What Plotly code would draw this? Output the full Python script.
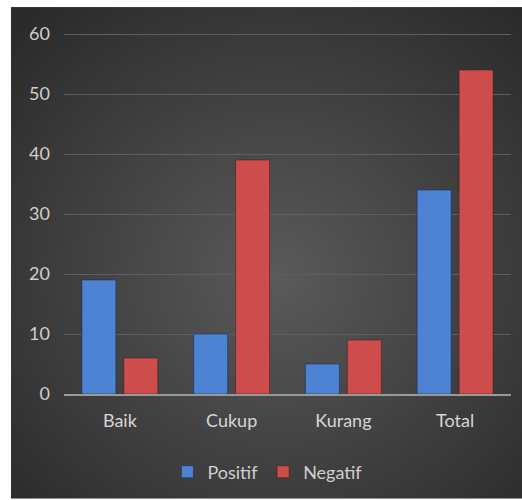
import base64
import plotly.graph_objects as go

categories = ["Baik", "Cukup", "Kurang", "Total"]
positif = [19, 10, 5, 34]
negatif = [6, 39, 9, 54]
y_ticks = [0, 10, 20, 30, 40, 50, 60]

svg = """<svg xmlns='http://www.w3.org/2000/svg' width='511' height='493' viewBox='0 0 511 493' preserveAspectRatio='none'>
<defs><radialGradient id='g' cx='0.52' cy='0.55' r='0.72'>
<stop offset='0' stop-color='#5a5a5a'/><stop offset='1' stop-color='#2a2a2a'/></radialGradient></defs>
<rect width='511' height='493' fill='url(#g)'/></svg>"""
bg = "data:image/svg+xml;base64," + base64.b64encode(svg.encode()).decode()

FONT = "Lato"

fig = go.Figure()
fig.add_bar(name="Positif", x=categories, y=positif,
            marker=dict(color="#4d83d2", line=dict(color="rgba(20,40,80,0.5)", width=1)))
fig.add_bar(name="Negatif", x=categories, y=negatif,
            marker=dict(color="#cd4d4d", line=dict(color="rgba(80,20,20,0.5)", width=1)))

L, R, T, B = 64, 11, 31, 105
W, H = 522, 500
pw = W - L - R
ph = H - T - B

fig.add_layout_image(dict(
    source=bg, xref="paper", yref="paper",
    x=(11 - L) / pw, y=(H - B - 7) / ph,
    sizex=(W - 11) / pw, sizey=(H - 7) / ph,
    xanchor="left", yanchor="top", sizing="stretch", layer="below"))

fig.update_layout(
    width=W, height=H,
    margin=dict(l=L, r=R, t=T, b=B),
    paper_bgcolor="white", plot_bgcolor="rgba(0,0,0,0)",
    barmode="group", bargap=0.25, bargroupgap=0.19,
    font=dict(family=FONT, color="#d0d0d0", size=18),
    showlegend=True,
    legend=dict(orientation="h", x=0.455, xanchor="center", y=-77 / ph, yanchor="middle",
                font=dict(size=18, color="#d0d0d0"), itemwidth=30, traceorder="normal",
                bgcolor="rgba(0,0,0,0)"),
    xaxis=dict(showgrid=False, showline=True, linecolor="#9a9a9a", linewidth=1.5,
               ticks="", ticklabelstandoff=10, tickfont=dict(size=18, color="#d6d6d6")),
    yaxis=dict(range=[0, 60.5], tickvals=y_ticks, showgrid=True, gridcolor="#5e5e5e",
               gridwidth=1, zeroline=False, showline=False, ticks="",
               ticklabelstandoff=13, tickfont=dict(size=18, color="#cfcfcf")),
)

fig.write_html("out.html")
